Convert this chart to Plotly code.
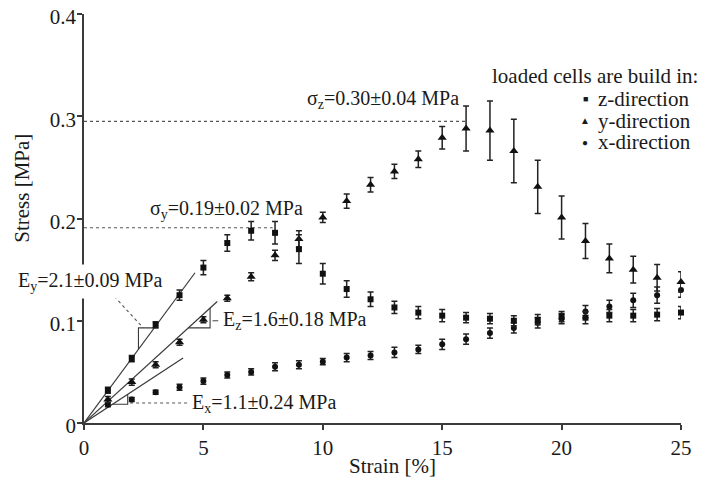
import plotly.graph_objects as go

# ---------------- data ----------------
strain = list(range(1, 26))

# series drawn with square markers (steep rise, peak ~0.19)
sq_stress = [0.032, 0.063, 0.096, 0.125, 0.152, 0.176, 0.188, 0.186, 0.170, 0.146,
             0.131, 0.121, 0.113, 0.108, 0.105, 0.103, 0.102, 0.100, 0.101, 0.104,
             0.103, 0.105, 0.105, 0.106, 0.108]
sq_err = [0.003, 0.003, 0.003, 0.005, 0.007, 0.008, 0.009, 0.011, 0.014, 0.010,
          0.008, 0.007, 0.006, 0.006, 0.006, 0.005, 0.005, 0.005, 0.005, 0.005,
          0.006, 0.006, 0.006, 0.006, 0.006]

# series drawn with triangle markers (peak ~0.29)
tri_stress = [0.023, 0.040, 0.057, 0.079, 0.101, 0.122, 0.143, 0.164, 0.180, 0.201,
              0.217, 0.233, 0.246, 0.258, 0.279, 0.288, 0.286, 0.266, 0.231, 0.201,
              0.178, 0.161, 0.150, 0.142, 0.138]
tri_err = [0.003, 0.003, 0.003, 0.003, 0.003, 0.003, 0.004, 0.005, 0.008, 0.005,
           0.007, 0.007, 0.007, 0.008, 0.011, 0.022, 0.029, 0.031, 0.026, 0.021,
           0.017, 0.014, 0.013, 0.013, 0.010]

# series drawn with circle markers (slow rise)
cir_stress = [0.018, 0.023, 0.030, 0.035, 0.041, 0.047, 0.050, 0.055, 0.057, 0.060,
              0.064, 0.066, 0.069, 0.072, 0.077, 0.082, 0.088, 0.093, 0.098, 0.102,
              0.109, 0.114, 0.120, 0.125, 0.130]
cir_err = [0.002, 0.002, 0.002, 0.003, 0.003, 0.003, 0.003, 0.004, 0.004, 0.003,
           0.004, 0.004, 0.005, 0.004, 0.005, 0.005, 0.005, 0.005, 0.005, 0.005,
           0.006, 0.006, 0.007, 0.008, 0.007]

# linear fits through origin: slope [MPa/%], end strain
fit_slopes = [0.0316, 0.0213, 0.0153]
fit_ends = [4.65, 5.58, 4.15]
# slope-triangle corners (x, y)
box_x = [2.28, 5.28, 1.83]
box_y = [0.093, 0.093, 0.0183]

# strength levels (y, end strain of dotted line)
sigma_levels = [0.295, 0.191]
sigma_ends = [16.0, 7.9]

x_ticks = [0, 5, 10, 15, 20, 25]
y_ticks = [0, 0.1, 0.2, 0.3, 0.4]
y_tick_labels = ["0", "0.1", "0.2", "0.3", "0.4"]

FONT = "Liberation Serif, 'Times New Roman', serif"
FS = 21      # axis / legend text
FS_LAB = 20  # modulus / strength labels
INK = "#1a1a1a"
LINE = "#3a3a3a"

fig = go.Figure()

# dotted strength lines
for lvl, end in zip(sigma_levels, sigma_ends):
    fig.add_trace(go.Scatter(x=[0, end], y=[lvl, lvl], mode="lines",
                             line=dict(color="#555", width=1.1, dash="dot"),
                             showlegend=False, hoverinfo="skip"))

# fit lines
for s, e in zip(fit_slopes, fit_ends):
    fig.add_trace(go.Scatter(x=[0, e], y=[0, s * e], mode="lines",
                             line=dict(color=LINE, width=1.2),
                             showlegend=False, hoverinfo="skip"))

# slope triangles
s0 = fit_slopes[0]
fig.add_trace(go.Scatter(x=[box_x[0], box_x[0], box_y[0] / s0],
                         y=[s0 * box_x[0], box_y[0], box_y[0]], mode="lines",
                         line=dict(color=LINE, width=1.1), showlegend=False, hoverinfo="skip"))
for i in (1, 2):
    s = fit_slopes[i]
    fig.add_trace(go.Scatter(x=[box_y[i] / s, box_x[i], box_x[i]],
                             y=[box_y[i], box_y[i], s * box_x[i]], mode="lines",
                             line=dict(color=LINE, width=1.1), showlegend=False, hoverinfo="skip"))

# leader lines for the modulus labels
fig.add_trace(go.Scatter(x=[1.1, box_x[0] + 0.2], y=[0.128, box_y[0]], mode="lines",
                         line=dict(color="#555", width=1.1, dash="dot"),
                         showlegend=False, hoverinfo="skip"))
fig.add_trace(go.Scatter(x=[box_x[1] + 0.1, 5.62], y=[0.1, 0.1], mode="lines",
                         line=dict(color="#555", width=1.1),
                         showlegend=False, hoverinfo="skip"))
fig.add_trace(go.Scatter(x=[box_x[2] + 0.1, 4.35], y=[0.0195, 0.0195], mode="lines",
                         line=dict(color="#555", width=1.1, dash="dot"),
                         showlegend=False, hoverinfo="skip"))

# data series
def series(y, err, symbol, size):
    return go.Scatter(
        x=strain, y=y, mode="markers",
        marker=dict(symbol=symbol, size=size, color="#111"),
        error_y=dict(type="data", array=err, visible=True, color="#222",
                     thickness=1.5, width=3),
        showlegend=False, cliponaxis=False)

fig.add_trace(series(cir_stress, cir_err, "circle", 6))
fig.add_trace(series(tri_stress, tri_err, "triangle-up", 8))
fig.add_trace(series(sq_stress, sq_err, "square", 6))

ann = []
def txt(x, y, t, anchor="left", ref="data", size=FS, **kw):
    xr, yr = ("x", "y") if ref == "data" else ("paper", "paper")
    d = dict(x=x, y=y, xref=xr, yref=yr, text=t, showarrow=False,
             xanchor=anchor, yanchor="middle",
             font=dict(family=FONT, size=size, color=INK))
    d.update(kw)
    ann.append(d)

txt(9.25, 0.316, "σ<sub>z</sub>=0.30±0.04 MPa", size=FS_LAB)
txt(2.7, 0.209, "σ<sub>y</sub>=0.19±0.02 MPa", size=FS_LAB)
txt(-0.119, 0.345, "E<sub>y</sub>=2.1±0.09 MPa", ref="paper", size=FS_LAB,
    bgcolor="white", borderpad=4)
txt(5.72, 0.1, "E<sub>z</sub>=1.6±0.18 MPa", size=FS_LAB)
txt(4.42, 0.0195, "E<sub>x</sub>=1.1±0.24 MPa", size=FS_LAB)

# legend
txt(1.032, 0.848, "loaded cells are build in:", anchor="right", ref="paper")
leg_y = [0.3165, 0.2955, 0.2745]
leg_txt = ["z-direction", "y-direction", "x-direction"]
leg_glyph = ["<span style='font-size:9px'>■</span>",
             "<span style='font-size:10px'>▲</span>",
             "<span style='font-size:10px'>●</span>"]
for yy, t, g in zip(leg_y, leg_txt, leg_glyph):
    txt(20.98, yy, g, anchor="center")
    txt(21.45, yy, t)

# axis titles
txt(-0.104, 0.575, "Stress [MPa]", anchor="center", ref="paper", textangle=-90)
txt(0.516, -0.105, "Strain [%]", anchor="center", ref="paper")

# page body has an 8px margin: the figure is sized to fill the rest of the window
fig.update_layout(
    template="none",
    width=701, height=479,
    margin=dict(l=76, r=28, t=6, b=64, autoexpand=False),
    paper_bgcolor="white", plot_bgcolor="white",
    font=dict(family=FONT, size=FS, color=INK),
    annotations=ann,
    xaxis=dict(range=[0, 25], tickvals=x_ticks, showgrid=False, zeroline=False,
               automargin=False, ticklabeloverflow="allow",
               showline=True, linecolor=LINE, linewidth=1.5,
               ticks="outside", ticklen=5, tickwidth=1.5, tickcolor=LINE,
               tickfont=dict(family=FONT, size=FS, color=INK)),
    yaxis=dict(range=[0, 0.4], tickvals=y_ticks, ticktext=y_tick_labels,
               showgrid=False, zeroline=False, automargin=False,
               ticklabeloverflow="allow", ticklabelstandoff=-3, ticklabelshift=3,
               showline=True, linecolor=LINE, linewidth=1.5,
               ticks="outside", ticklen=5, tickwidth=1.5, tickcolor=LINE,
               tickfont=dict(family=FONT, size=FS, color=INK)),
)

fig.write_html("out.html")
